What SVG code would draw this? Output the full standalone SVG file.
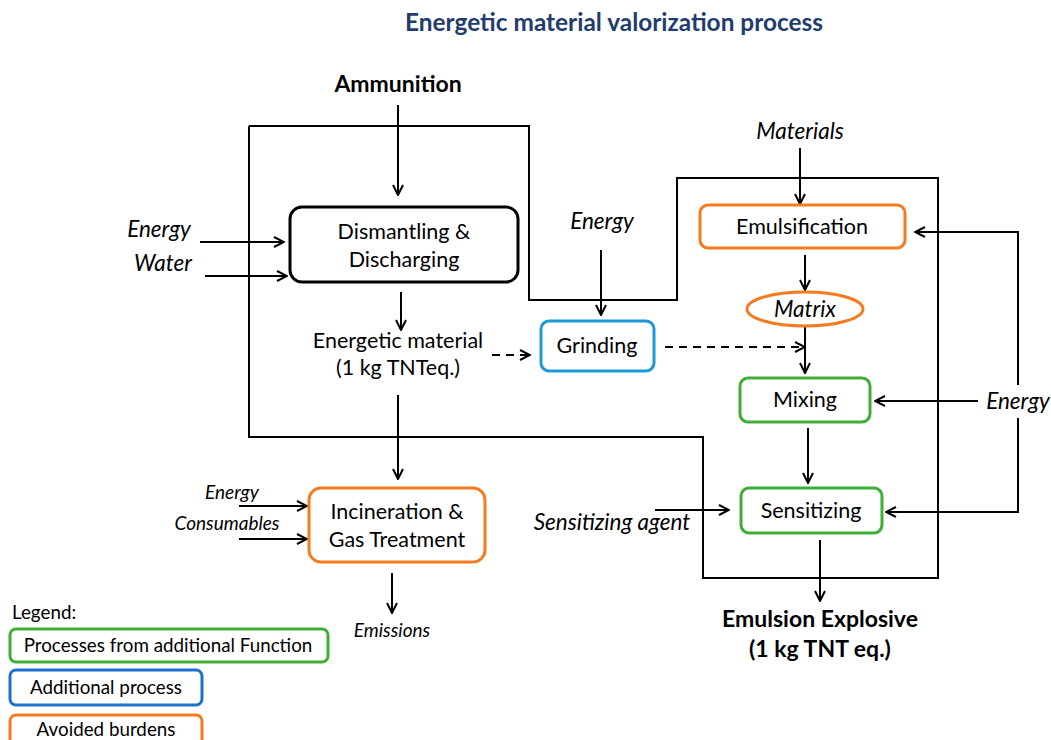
<svg xmlns="http://www.w3.org/2000/svg" width="1051" height="740" viewBox="0 0 1051 740">
<style>
text{font-family:Lato,"Open Sans","Liberation Sans",sans-serif;fill:#000}
.t{font-size:21.5px;text-anchor:middle}
.i{font-style:italic;text-anchor:middle;font-size:22.5px}
.b{font-weight:bold;text-anchor:middle;font-size:23px}
.s{font-size:19px}
.l{font-size:18.8px}
.box{fill:#fff;stroke-width:3}
.k{stroke:#000}
.o{stroke:#f47b20}
.g{stroke:#3fae35}
.bl{stroke:#1f9ad8}
.bl2{stroke:#1e70cf}
.c{fill:none;stroke:#000;stroke-width:2}
.a{marker-end:url(#arr)}
.d{stroke-dasharray:8,6}
</style>
<defs>
<marker id="arr" viewBox="0 0 12 12" refX="11" refY="6" markerWidth="12" markerHeight="12" markerUnits="userSpaceOnUse" orient="auto">
<path d="M1,1 L11,6 L1,11" fill="none" stroke="#000" stroke-width="2"/>
</marker>
</defs>
<rect width="1051" height="740" fill="#fff"/>
<text x="614" y="31" style="font-size:24.4px;font-weight:bold;text-anchor:middle;fill:#1f3d6e">Energetic material valorization process</text>

<g id="connectors">
<polyline class="c" points="249,126 529,126 529,300 677,300 677,178 938,178 938,578 703,578 703,437 249,437 249,126"/>
<line class="c a" x1="398" y1="105" x2="398" y2="195"/>
<line class="c a" x1="200" y1="242" x2="284" y2="242"/>
<line class="c a" x1="205" y1="276" x2="287" y2="276"/>
<line class="c a" x1="401" y1="292" x2="401" y2="330"/>
<line class="c a d" x1="492" y1="355" x2="530" y2="355"/>
<line class="c a" x1="601" y1="250" x2="601" y2="315"/>
<line class="c a d" x1="665" y1="347" x2="805" y2="347"/>
<line class="c a" x1="800" y1="148" x2="800" y2="204"/>
<line class="c a" x1="805" y1="255" x2="805" y2="290"/>
<line class="c a" x1="805" y1="327" x2="805" y2="373"/>
<line class="c a" x1="808" y1="428" x2="808" y2="483"/>
<line class="c a" x1="820" y1="540" x2="820" y2="601"/>
<polyline class="c a" points="1018,385 1018,232 915,232"/>
<line class="c a" x1="978" y1="401" x2="875" y2="401"/>
<polyline class="c a" points="1018,418 1018,512 886,512"/>
<line class="c a" x1="655" y1="510" x2="729" y2="510"/>
<line class="c a" x1="398" y1="395" x2="398" y2="479"/>
<line class="c a" x1="239" y1="506" x2="307" y2="506"/>
<line class="c a" x1="239" y1="539" x2="307" y2="539"/>
<line class="c a" x1="392" y1="573" x2="392" y2="613"/>
</g>

<g id="ammunition"><text class="b" x="398" y="92">Ammunition</text></g>
<g id="energy1"><text class="i" x="159" y="237">Energy</text></g>
<g id="water"><text class="i" x="163" y="271">Water</text></g>
<g id="dismantling">
<rect class="box k" x="290" y="207" width="228" height="75" rx="12"/>
<text class="t" x="404" y="239">Dismantling &amp;</text>
<text class="t" x="404" y="267">Discharging</text>
</g>
<g id="energetic-material">
<text class="t" x="398" y="348">Energetic material</text>
<text class="t" x="398" y="375">(1 kg TNTeq.)</text>
</g>
<g id="energy2"><text class="i" x="602" y="229">Energy</text></g>
<g id="grinding">
<rect class="box bl" x="541" y="321" width="113" height="50" rx="8"/>
<text class="t" x="597" y="353">Grinding</text>
</g>
<g id="materials"><text class="i" x="800" y="139">Materials</text></g>
<g id="emulsification">
<rect class="box o" x="700" y="205" width="205" height="43" rx="8"/>
<text class="t" x="802" y="234">Emulsification</text>
</g>
<g id="matrix">
<ellipse cx="805" cy="309" rx="58" ry="17" fill="#fff" stroke="#f47b20" stroke-width="3"/>
<text class="i" x="805" y="317">Matrix</text>
</g>
<g id="mixing">
<rect class="box g" x="740" y="378" width="130" height="44" rx="8"/>
<text class="t" x="805" y="407">Mixing</text>
</g>
<g id="energy3"><text class="i" x="1018" y="409">Energy</text></g>
<g id="sensitizing">
<rect class="box g" x="741" y="488" width="141" height="45" rx="8"/>
<text class="t" x="811" y="518">Sensitizing</text>
</g>
<g id="sensitizing-agent"><text class="i" x="612" y="530">Sensitizing agent</text></g>
<g id="emulsion-explosive">
<text class="b" x="820" y="627">Emulsion Explosive</text>
<text class="b" x="820" y="657">(1 kg TNT eq.)</text>
</g>
<g id="energy4"><text class="i s" x="232" y="499">Energy</text></g>
<g id="consumables"><text class="i s" x="227" y="530">Consumables</text></g>
<g id="incineration">
<rect class="box o" x="309" y="488" width="176" height="74" rx="12"/>
<text class="t" x="397" y="519">Incineration &amp;</text>
<text class="t" x="397" y="547">Gas Treatment</text>
</g>
<g id="emissions"><text class="i s" x="392" y="637">Emissions</text></g>
<g id="legend">
<text class="l" x="12" y="619">Legend:</text>
<rect class="box g" x="10" y="629" width="318" height="33" rx="6"/>
<text class="t l" x="168" y="652">Processes from additional Function</text>
<rect class="box bl2" x="10" y="670" width="192" height="35" rx="6"/>
<text class="t l" x="106" y="694">Additional process</text>
<rect class="box o" x="10" y="715" width="192" height="35" rx="6"/>
<text class="t l" x="106" y="736">Avoided burdens</text>
</g>
</svg>
